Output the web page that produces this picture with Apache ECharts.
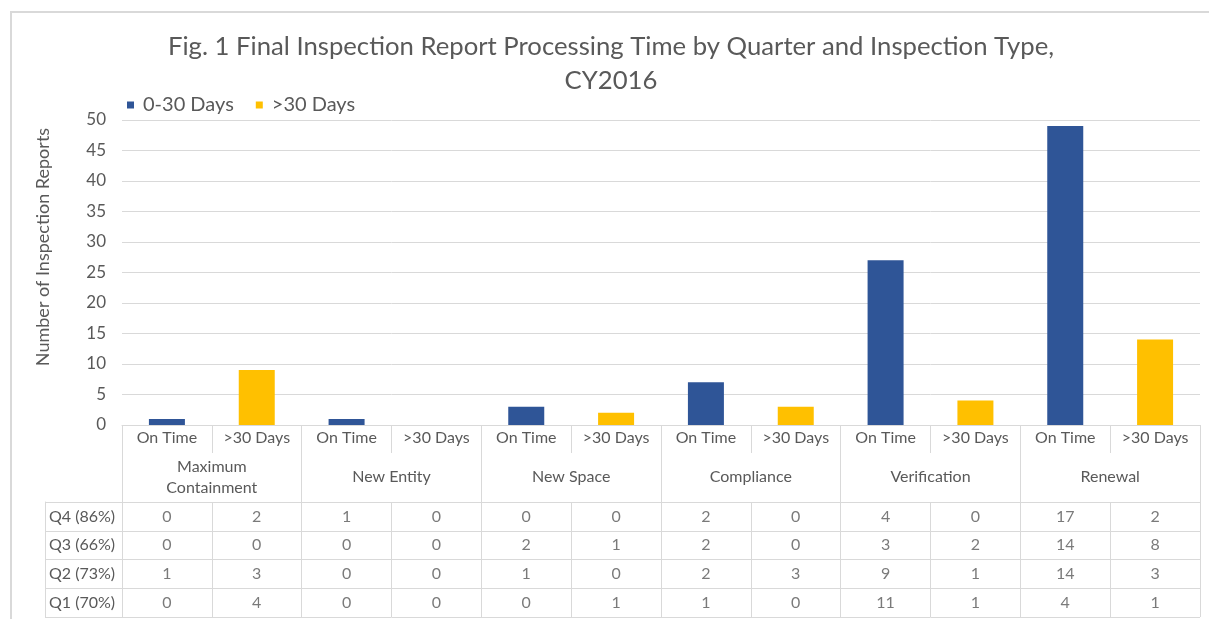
<!DOCTYPE html>
<html>
<head>
<meta charset="utf-8">
<script src="https://cdn.jsdelivr.net/npm/echarts@6/dist/echarts.min.js"></script>
<style>
html,body{margin:0;padding:0;background:#fff;}
#chart{width:1209px;height:619px;}
</style>
</head>
<body>
<div id="chart"></div>
<script>
const titleText = 'Fig. 1 Final Inspection Report Processing Time by Quarter and Inspection Type,\nCY2016';
const groups = ['Maximum\nContainment', 'New Entity', 'New Space', 'Compliance', 'Verification', 'Renewal'];
const subLabels = ['On Time','>30 Days','On Time','>30 Days','On Time','>30 Days','On Time','>30 Days','On Time','>30 Days','On Time','>30 Days'];
const onTimeSeries = [1, 0, 1, 0, 3, 0, 7, 0, 27, 0, 49, 0];
const lateSeries   = [0, 9, 0, 0, 0, 2, 0, 3, 0, 4, 0, 14];
const yTicks = [0, 50, 5];
const rowLabels = ['Q1 (70%)', 'Q2 (73%)', 'Q3 (66%)', 'Q4 (86%)'];
const q4 = [0, 2, 1, 0, 0, 0, 2, 0, 4, 0, 17, 2];
const q3 = [0, 0, 0, 0, 2, 1, 2, 0, 3, 2, 14, 8];
const q2 = [1, 3, 0, 0, 1, 0, 2, 3, 9, 1, 14, 3];
const q1 = [0, 4, 0, 0, 0, 1, 1, 0, 11, 1, 4, 1];

const FONT = 'Lato, "Open Sans", sans-serif';
const TXT = '#595959';
const LINE = '#d9d9d9';

const tableRows = {'Q1 (70%)': q1, 'Q2 (73%)': q2, 'Q3 (66%)': q3, 'Q4 (86%)': q4};
const cellData = [];
rowLabels.forEach(r => {
  tableRows[r].forEach((v, i) => cellData.push([i, r, v]));
});

const chart = echarts.init(document.getElementById('chart'));
chart.setOption({
  animation: false,
  textStyle: {fontFamily: FONT},
  title: {
    text: titleText,
    left: 611,
    textAlign: 'center',
    top: 30,
    padding: 0,
    textStyle: {fontFamily: FONT, fontSize: 25.7, fontWeight: 'normal', color: TXT, lineHeight: 34}
  },
  legend: {
    left: 122,
    top: 90,
    icon: 'rect',
    itemWidth: 7,
    itemHeight: 7,
    itemGap: 22,
    textStyle: {fontFamily: FONT, fontSize: 20, color: TXT, padding: [0, 0, 0, 4]},
    data: ['0-30 Days', '>30 Days']
  },
  graphic: [
    {type: 'rect', silent: true, shape: {x: 11, y: 12, width: 1300, height: 700},
     style: {fill: 'none', stroke: LINE, lineWidth: 2}},
    {type: 'text', silent: true, x: 43, y: 247, rotation: Math.PI / 2,
     style: {text: 'Number of Inspection Reports', font: '18px ' + FONT, fill: TXT, align: 'center', verticalAlign: 'middle'}}
  ],
  grid: [
    {left: 122, right: 9, top: 120, bottom: 194},
    {left: 122, right: 9, top: 502, height: 115}
  ],
  xAxis: [
    {
      type: 'category', gridIndex: 0, data: subLabels, position: 'bottom',
      axisLine: {show: true, lineStyle: {color: LINE, width: 1}},
      axisTick: {show: true, interval: 0, length: 28, lineStyle: {color: LINE}},
      axisLabel: {interval: 0, margin: 5, fontFamily: FONT, fontSize: 16, color: TXT},
      splitLine: {show: false}
    },
    {
      type: 'category', gridIndex: 0, data: groups, position: 'bottom', offset: 0,
      axisLine: {show: false},
      axisTick: {show: true, interval: 0, length: 192, lineStyle: {color: LINE}},
      axisLabel: {interval: 0, margin: 52, verticalAlign: 'middle', lineHeight: 21, fontFamily: FONT, fontSize: 16, color: TXT},
      splitLine: {show: false}
    },
    {
      type: 'category', gridIndex: 1, data: subLabels,
      axisLine: {show: false}, axisTick: {show: false}, axisLabel: {show: false},
      splitLine: {show: true, interval: 0, lineStyle: {color: LINE}}
    }
  ],
  yAxis: [
    {
      type: 'value', gridIndex: 0, min: yTicks[0], max: yTicks[1], interval: yTicks[2],
      axisLine: {show: false}, axisTick: {show: false},
      axisLabel: {margin: 16, fontFamily: FONT, fontSize: 17, color: TXT},
      splitLine: {show: true, lineStyle: {color: LINE}}
    },
    {
      type: 'category', gridIndex: 1, data: rowLabels,
      axisLine: {show: false},
      axisTick: {show: true, interval: 0, length: 77, lineStyle: {color: LINE}},
      axisLabel: {interval: 0, margin: 73, align: 'left', fontFamily: FONT, fontSize: 16, color: TXT},
      splitLine: {show: true, interval: 0, lineStyle: {color: LINE}}
    },
    {
      type: 'category', gridIndex: 1, data: rowLabels, position: 'left', offset: 77,
      axisLine: {show: true, lineStyle: {color: LINE}},
      axisTick: {show: false}, axisLabel: {show: false}, splitLine: {show: false}
    }
  ],
  series: [
    {
      name: '0-30 Days', type: 'bar', xAxisIndex: 0, yAxisIndex: 0, stack: 'total',
      barWidth: 36, itemStyle: {color: '#2F5597'}, data: onTimeSeries
    },
    {
      name: '>30 Days', type: 'bar', xAxisIndex: 0, yAxisIndex: 0, stack: 'total',
      barWidth: 36, itemStyle: {color: '#FFC000'}, data: lateSeries
    },
    {
      name: 'table', type: 'scatter', xAxisIndex: 2, yAxisIndex: 1,
      symbolSize: 1, itemStyle: {color: 'rgba(0,0,0,0)'}, silent: true,
      label: {show: true, position: 'inside', formatter: p => String(p.value[2]),
              fontFamily: FONT, fontSize: 16, color: TXT},
      data: cellData
    }
  ]
});
</script>
</body>
</html>
